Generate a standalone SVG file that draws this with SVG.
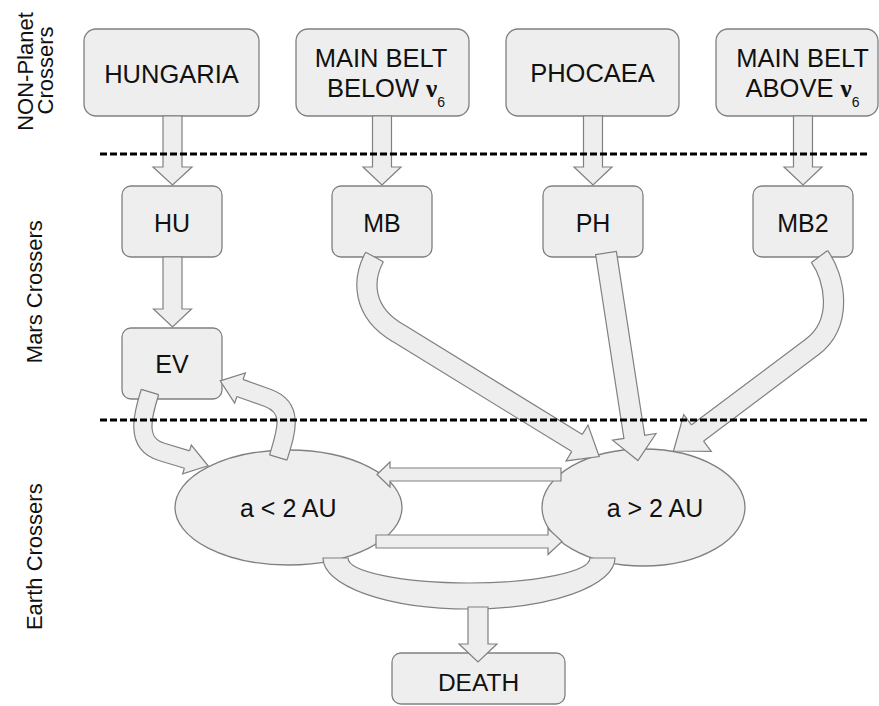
<svg xmlns="http://www.w3.org/2000/svg" width="879" height="706" viewBox="0 0 879 706">
<style>
.box{fill:#eeeeee;stroke:#808080;stroke-width:1.3}
.ell{fill:#eeeeee;stroke:#808080;stroke-width:1.3}
.t{font-family:"Liberation Sans",Arial,sans-serif;font-size:25px;fill:#111;text-anchor:middle}
.big{font-size:25.5px}
.nu{font-family:"Liberation Serif","DejaVu Serif",serif;font-weight:bold;font-size:25px}
.sub{font-size:14px}
.side{font-family:"Liberation Sans",Arial,sans-serif;font-size:22px;fill:#111;text-anchor:middle}
.arr{fill:#eeeeee;stroke:#808080;stroke-width:1.2;stroke-linejoin:miter}
.so{fill:none;stroke:#808080}
.si{fill:none;stroke:#eeeeee}
.edge{stroke:#808080;stroke-width:1.2}
.dash{stroke:#000;stroke-width:3;stroke-dasharray:7 3;fill:none}
</style>
<rect width="879" height="706" fill="#ffffff"/>

<g id="labels">
<text class="side" transform="translate(33,71.5) rotate(-90)">NON-Planet</text>
<text class="side" transform="translate(53,70.5) rotate(-90)">Crossers</text>
<text class="side" transform="translate(41.5,291.7) rotate(-90)">Mars Crossers</text>
<text class="side" transform="translate(41.5,556.7) rotate(-90)">Earth Crossers</text>
</g>

<g id="hungaria"><rect class="box" x="84" y="29" width="175" height="87" rx="12"/><text class="t big" x="171.5" y="82.5">HUNGARIA</text></g>
<g id="mainbelt-below"><rect class="box" x="296" y="29" width="173" height="87" rx="12"/><text class="t big" x="381" y="66.7">MAIN BELT</text><text class="t big" x="386" y="97.3">BELOW <tspan class="nu">ν</tspan><tspan class="sub" dy="9.5">6</tspan></text></g>
<g id="phocaea"><rect class="box" x="506" y="29" width="173" height="87" rx="12"/><text class="t big" x="592.5" y="82">PHOCAEA</text></g>
<g id="mainbelt-above"><rect class="box" x="716" y="29" width="162" height="87" rx="12"/><text class="t big" x="802.5" y="66.7">MAIN BELT</text><text class="t big" x="802.5" y="97.3">ABOVE <tspan class="nu">ν</tspan><tspan class="sub" dy="9.5">6</tspan></text></g>

<g id="hu"><rect class="box" x="122" y="186" width="100" height="71" rx="9"/><text class="t" x="172" y="232.3">HU</text></g>
<g id="mb"><rect class="box" x="332" y="186" width="100" height="71" rx="9"/><text class="t" x="382" y="232.3">MB</text></g>
<g id="ph"><rect class="box" x="543" y="186" width="100" height="71" rx="9"/><text class="t" x="593" y="232.3">PH</text></g>
<g id="mb2"><rect class="box" x="753" y="186" width="100" height="71" rx="9"/><text class="t" x="803" y="232.3">MB2</text></g>
<g id="ev"><rect class="box" x="122" y="328" width="100" height="71" rx="9"/><text class="t" x="172" y="373.3">EV</text></g>

<g id="a-lt-2"><ellipse class="ell" cx="288.5" cy="507.5" rx="113.5" ry="57.5"/><text class="t" x="288.3" y="516.7">a &lt; 2 AU</text></g>
<g id="a-gt-2"><ellipse class="ell" cx="643.5" cy="507.5" rx="101.5" ry="58.5"/><text class="t" x="655" y="516.5">a &gt; 2 AU</text></g>

<g id="death"><rect class="box" x="392" y="653" width="173" height="51" rx="9"/><text class="t" x="478.5" y="690.7" style="font-size:24.5px">DEATH</text></g>

<g id="connectors">
<!-- top layer down arrows -->
<polygon class="arr" points="163,116 182,116 182,167 192,167 172.5,185 153,167 163,167"/>
<polygon class="arr" points="372.5,116 391.5,116 391.5,167 401,167 382,185 363,167 372.5,167"/>
<polygon class="arr" points="583.5,116 602.5,116 602.5,167 612,167 593,185 574,167 583.5,167"/>
<polygon class="arr" points="793.5,116 812.5,116 812.5,167 822,167 803,185 784,167 793.5,167"/>
<!-- HU to EV -->
<polygon class="arr" points="163,257 182,257 182,309 191.5,309 172.5,327 153.5,309 163,309"/>
<!-- PH to a>2 -->
<polygon class="arr" transform="translate(606,253) rotate(-8.75)" points="-10.5,0 10.5,0 10.5,186 22,186 0,210 -22,186 -10.5,186"/>
<!-- MB to a>2 (curved) -->
<path class="so" stroke-width="21.4" d="M374.5,257 C362,280 362,312 398,333 L577.9,443.5"/>
<path class="si" stroke-width="19" d="M374.5,257 C362,280 362,312 398,333 L577.9,443.5"/>
<line class="edge" x1="383.37" y1="261.84" x2="365.63" y2="252.16"/>
<path class="arr" d="M571.7,451.6 L566,460.9 L599.2,456.6 L588,425.1 L582.3,434.4"/>
<!-- MB2 to a>2 (curved) -->
<path class="so" stroke-width="21.4" d="M819.5,256.5 C835,278 844,323 812,347 L696.7,433.6"/>
<path class="si" stroke-width="19" d="M819.5,256.5 C835,278 844,323 812,347 L696.7,433.6"/>
<line class="edge" x1="827.58" y1="250.44" x2="811.42" y2="262.56"/>
<path class="arr" d="M703.56,441.08 L711.3,451.4 L673.5,451 L683.7,414.6 L691.44,424.92"/>
<!-- EV to a<2 (curved) -->
<path class="so" stroke-width="19.4" d="M150,392 C143,414 134,444 162,452 L187.96,459.79"/>
<path class="si" stroke-width="17" d="M150,392 C143,414 134,444 162,452 L187.96,459.79"/>
<line class="edge" x1="158.71" y1="394.63" x2="141.29" y2="389.37"/>
<path class="arr" d="M184.39,468.22 L182.69,473.87 L208.08,465.81 L191.31,445.13 L189.61,450.78"/>
<!-- a<2 to EV (curved) -->
<path class="so" stroke-width="19.4" d="M278.3,457.5 C286,432 295,408 268,398 L239.06,387.66"/>
<path class="si" stroke-width="17" d="M278.3,457.5 C286,432 295,408 268,398 L239.06,387.66"/>
<line class="edge" x1="287.01" y1="460.13" x2="269.59" y2="454.87"/>
<path class="arr" d="M243.06,379.43 L245.38,372.93 L220.22,380.94 L234.62,403.07 L236.94,396.57"/>
<!-- a>2 to a<2 -->
<polygon class="arr" points="561,468 561,481 390,481 390,487 377,474.5 390,462 390,468"/>
<!-- a<2 to a>2 -->
<polygon class="arr" points="376,535 548,535 548,528.5 562,541.5 548,554.5 548,548 376,548"/>
<!-- U band to death -->
<path class="arr" d="M323,558 A146,51 0 0 0 615,558 L590,558 A121,25 0 0 1 348,558 Z"/>
<polygon class="arr" points="468,607 488,607 488,644 497,644 478,662 459,644 468,644"/>
</g>

<g id="dividers">
<line class="dash" x1="100" y1="154" x2="870" y2="154"/>
<line class="dash" x1="100" y1="420" x2="870" y2="420"/>
</g>
</svg>
